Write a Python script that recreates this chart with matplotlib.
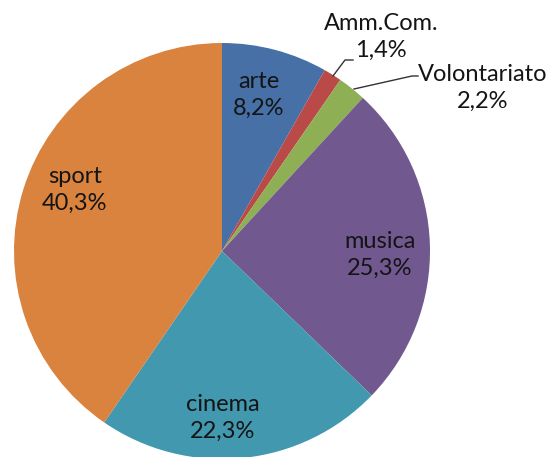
import matplotlib
matplotlib.use("Agg")
import matplotlib.pyplot as plt

categories = ["arte", "Amm.Com.", "Volontariato", "musica", "cinema", "sport"]
values = [8.2, 1.4, 2.2, 25.3, 22.3, 40.3]
labels = ["8,2%", "1,4%", "2,2%", "25,3%", "22,3%", "40,3%"]
colors = ["#4670A6", "#B94A48", "#8FAF54", "#71588F", "#4198AF", "#D9833E"]

fig = plt.figure(figsize=(5.5, 4.57), dpi=100)
ax = fig.add_axes([0, 0, 1, 1])

# y axis is inverted, so a counter-clockwise sweep in data appears clockwise
ax.pie(values, colors=colors, startangle=-90, counterclock=True,
       center=(222, 251), radius=208, frame=True,
       wedgeprops=dict(linewidth=0, edgecolor="white"))
ax.set_xlim(0, 550)
ax.set_ylim(457, 0)
ax.set_aspect("equal")
ax.axis("off")

label_pos = {
    "arte": (259, 95),
    "Amm.Com.": (381, 37),
    "Volontariato": (483, 88),
    "musica": (380, 255),
    "cinema": (223, 418),
    "sport": (75, 190),
}
fs = 17
for cat, lab in zip(categories, labels):
    x, y = label_pos[cat]
    ax.text(x, y, f"{cat}\n{lab}", ha="center", va="center", fontsize=fs,
            family="Lato", color="#141414", linespacing=1.38)

ax.plot([333, 345, 353], [76, 60, 60], color="#333333", lw=1)
ax.plot([354, 412, 418], [89, 76, 76], color="#333333", lw=1)

fig.savefig("out.png", dpi=100)
